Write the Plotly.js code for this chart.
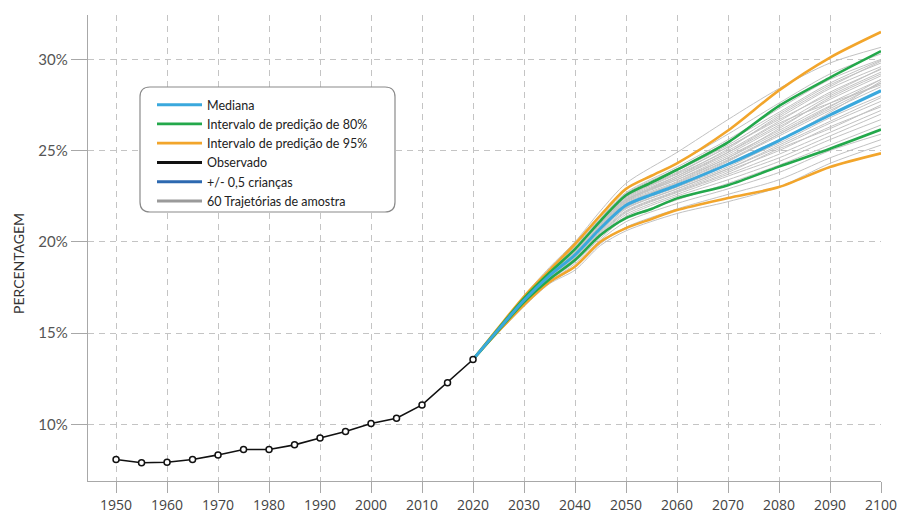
<!DOCTYPE html>
<html>
<head>
<meta charset="utf-8">
<script src="https://cdn.plot.ly/plotly-3.0.1.min.js"></script>
<style>html,body{margin:0;padding:0;background:#fff;}#chart{width:901px;height:513px;}</style>
</head>
<body>
<div id="chart"></div>
<script>
// Observed series
const obsYears = [1950,1955,1960,1965,1970,1975,1980,1985,1990,1995,2000,2005,2010,2015,2020];
const obsVals  = [8.07,7.89,7.92,8.07,8.32,8.62,8.62,8.87,9.25,9.60,10.04,10.33,11.06,12.28,13.55];

// Projection bands
const projYears = [2020,2025,2030,2035,2040,2045,2050,2055,2060,2070,2080,2090,2100];
const median    = [13.55,15.20,16.80,18.15,19.28,20.74,22.00,22.58,23.10,24.25,25.55,26.95,28.28];
const pi80Upper = [13.55,15.25,16.90,18.30,19.60,21.15,22.55,23.25,23.95,25.45,27.45,29.00,30.45];
const pi80Lower = [13.55,15.15,16.70,17.95,19.00,20.37,21.30,21.80,22.38,23.10,24.12,25.10,26.15];
const pi95Upper = [13.55,15.30,17.00,18.45,19.88,21.45,22.90,23.62,24.30,26.10,28.30,30.10,31.50];
const pi95Lower = [13.55,15.10,16.55,17.80,18.65,20.00,20.75,21.25,21.74,22.40,23.00,24.10,24.85];
// "+/- 0,5 crianças" is listed in the legend but no line of it is visible in the chart
const halfChildYears = [null];
const halfChildVals  = [null];
const legendStubYears = [null];
const legendStubVals  = [null];

// Sample trajectories
const trajYears = [2020,2030,2035,2040,2045,2050,2060,2070,2080,2090,2100];
const trajectories = [
  [13.55,17.05,18.60,20.00,21.70,23.20,24.90,26.70,28.40,29.80,30.66],
  [13.55,17.00,18.50,19.90,21.50,22.90,24.30,25.90,27.60,29.20,30.30],
  [13.55,16.95,18.45,19.80,21.30,22.70,24.10,25.60,27.30,28.90,30.00],
  [13.55,16.90,18.40,19.70,21.20,22.60,23.90,25.30,27.00,28.60,29.80],
  [13.55,16.90,18.35,19.60,21.10,22.50,23.80,25.20,26.80,28.40,29.60],
  [13.55,16.85,18.30,19.55,21.00,22.40,23.70,25.00,26.60,28.20,29.45],
  [13.55,16.85,18.30,19.50,20.95,22.35,23.60,24.90,26.40,28.00,29.30],
  [13.55,16.80,18.25,19.45,20.90,22.30,23.50,24.80,26.30,27.80,29.10],
  [13.55,16.80,18.20,19.40,20.85,22.20,23.40,24.70,26.10,27.60,28.90],
  [13.55,16.80,18.20,19.35,20.80,22.15,23.30,24.60,26.00,27.45,28.70],
  [13.55,16.75,18.15,19.30,20.75,22.10,23.20,24.45,25.80,27.20,28.50],
  [13.55,16.75,18.10,19.25,20.70,22.00,23.10,24.30,25.60,27.00,28.30],
  [13.55,16.70,18.05,19.20,20.60,21.90,23.00,24.20,25.40,26.80,28.00],
  [13.55,16.70,18.00,19.15,20.55,21.80,22.90,24.00,25.20,26.50,27.70],
  [13.55,16.70,18.00,19.10,20.50,21.70,22.80,23.90,25.00,26.30,27.40],
  [13.55,16.65,17.95,19.05,20.40,21.60,22.70,23.70,24.80,26.00,27.20],
  [13.55,16.65,17.90,19.00,20.35,21.50,22.60,23.60,24.60,25.80,27.00],
  [13.55,16.60,17.90,18.95,20.30,21.40,22.50,23.40,24.40,25.60,26.70],
  [13.55,16.60,17.85,18.90,20.20,21.30,22.30,23.20,24.20,25.30,26.40],
  [13.55,16.55,17.80,18.80,20.10,21.10,22.10,22.90,23.80,25.00,25.90],
  [13.55,16.50,17.75,18.60,19.90,20.80,21.80,22.60,23.40,24.60,25.60],
  [13.55,16.45,17.70,18.45,19.80,20.60,21.55,22.20,23.00,24.30,25.30],
  [13.55,16.90,18.40,19.60,21.00,22.30,23.40,24.60,26.20,27.90,29.20],
  [13.55,16.70,18.10,19.30,20.80,22.20,23.50,24.90,26.50,27.60,28.60],
  [13.55,16.80,18.20,19.40,20.80,22.00,23.00,24.10,25.50,27.10,28.80],
  [13.55,16.75,18.20,19.45,20.90,22.25,23.60,25.10,26.90,28.50,29.90],
  [13.55,16.85,18.25,19.40,20.70,21.85,22.90,24.00,25.30,26.60,27.90],
  [13.55,16.65,18.00,19.20,20.60,21.90,23.10,24.40,25.90,27.30,28.70],
  [13.55,16.85,18.35,19.65,21.05,22.45,23.75,25.20,26.70,28.10,29.50],
  [13.55,16.75,18.15,19.35,20.75,22.05,23.25,24.50,25.90,27.40,28.90],
  [13.55,16.60,17.95,19.10,20.45,21.65,22.75,23.80,25.10,26.20,27.50],
  [13.55,16.95,18.50,19.75,21.25,22.65,24.00,25.50,27.10,28.70,29.95]
];

const yTicks = [10,15,20,25,30];
const xTicks = [1950,1960,1970,1980,1990,2000,2010,2020,2030,2040,2050,2060,2070,2080,2090,2100];

const names = {
  median: 'Mediana', pi80: 'Intervalo de predição de 80%', pi95: 'Intervalo de predição de 95%',
  obs: 'Observado', half: '+/- 0,5 crianças', traj: '60 Trajetórias de amostra'
};
const colors = {median:'#3aa8dd', pi80:'#23a84b', pi95:'#f2a52b', obs:'#111111', half:'#2d69b0', traj:'#c2c2c2', trajLegend:'#9a9a9a'};

const traces = [];
trajectories.forEach((t) => {
  traces.push({
    x: trajYears, y: t, type: 'scatter', mode: 'lines',
    line: {color: colors.traj, width: 1, shape: 'spline', smoothing: 0.8},
    name: names.traj, legendgroup: 'traj', showlegend: false, hoverinfo: 'skip'
  });
});
// legend entry for trajectories
traces.push({x: legendStubYears, y: legendStubVals, type: 'scatter', mode: 'lines', line: {color: colors.trajLegend, width: 3},
  name: names.traj, legendgroup: 'traj', showlegend: true, legendrank: 6});

const sp = {shape:'spline', smoothing:0.8};
traces.push({x: projYears, y: pi95Upper, type:'scatter', mode:'lines', line:Object.assign({color:colors.pi95, width:2.6}, sp),
  name: names.pi95, legendgroup:'pi95', showlegend:true, legendrank:3});
traces.push({x: projYears, y: pi95Lower, type:'scatter', mode:'lines', line:Object.assign({color:colors.pi95, width:2.6}, sp),
  name: names.pi95, legendgroup:'pi95', showlegend:false});
traces.push({x: projYears, y: pi80Upper, type:'scatter', mode:'lines', line:Object.assign({color:colors.pi80, width:2.6}, sp),
  name: names.pi80, legendgroup:'pi80', showlegend:true, legendrank:2});
traces.push({x: projYears, y: pi80Lower, type:'scatter', mode:'lines', line:Object.assign({color:colors.pi80, width:2.6}, sp),
  name: names.pi80, legendgroup:'pi80', showlegend:false});
traces.push({x: halfChildYears, y: halfChildVals, type:'scatter', mode:'lines', line:{color:colors.half, width:3},
  name: names.half, showlegend:true, legendrank:5});
traces.push({x: projYears, y: median, type:'scatter', mode:'lines', line:Object.assign({color:colors.median, width:3}, sp),
  name: names.median, showlegend:true, legendrank:1});
// legend entry for observed (thick sample like the reference legend)
traces.push({x: legendStubYears, y: legendStubVals, type:'scatter', mode:'lines', line:{color:colors.obs, width:3},
  name: names.obs, legendgroup:'obs', showlegend:true, legendrank:4});
traces.push({x: obsYears, y: obsVals, type:'scatter', mode:'lines',
  line:{color:colors.obs, width:1.6},
  name: names.obs, legendgroup:'obs', showlegend:false});
traces.push({x: obsYears, y: obsVals, type:'scatter', mode:'markers',
  marker:{symbol:'circle', size:6, color:'#ffffff', line:{color:colors.obs, width:1.5}},
  name: names.obs, legendgroup:'obs', showlegend:false});

// rounded legend box (paper coords)
const bx0 = (140-88)/793, bx1 = (395-88)/793, byT = (481-87)/466, byB = (481-212)/466;
const rx = 10/793, ry = 10/466;
const boxPath = `M${bx0+rx},${byT} L${bx1-rx},${byT} Q${bx1},${byT} ${bx1},${byT-ry} L${bx1},${byB+ry} Q${bx1},${byB} ${bx1-rx},${byB} L${bx0+rx},${byB} Q${bx0},${byB} ${bx0},${byB+ry} L${bx0},${byT-ry} Q${bx0},${byT} ${bx0+rx},${byT} Z`;

const layout = {
  width: 901, height: 513,
  margin: {l: 88, r: 20, t: 15, b: 32},
  paper_bgcolor: '#ffffff', plot_bgcolor: '#ffffff',
  showlegend: true,
  legend: {
    x: (152-88)/793, y: (481-90)/466, xanchor: 'left', yanchor: 'top',
    bgcolor: 'rgba(0,0,0,0)', borderwidth: 0,
    font: {family: 'Lato, "Open Sans", sans-serif', size: 12.5, color: '#222'},
    tracegroupgap: 0, itemwidth: 45, traceorder: 'normal'
  },
  xaxis: {
    range: [1944.5, 2100], tickvals: xTicks, ticktext: xTicks.map(String),
    showgrid: true, gridcolor: '#c4c4c4', gridwidth: 1, griddash: '6px,5px',
    showline: true, linecolor: '#a8a8a8', linewidth: 1.2,
    ticks: 'outside', ticklen: 11, tickcolor: '#a8a8a8', tickwidth: 1,
    zeroline: false,
    tickfont: {family: '"Open Sans", sans-serif', size: 14, color: '#444'}
  },
  yaxis: {
    range: [6.89, 32.43], tickvals: yTicks, ticktext: yTicks.map(v => v + '%'),
    showgrid: true, gridcolor: '#c4c4c4', gridwidth: 1, griddash: '6px,5px',
    showline: true, linecolor: '#a8a8a8', linewidth: 1.2,
    ticks: 'outside', ticklen: 16, tickcolor: '#a8a8a8', tickwidth: 1,
    zeroline: false,
    tickfont: {family: 'Lato, sans-serif', size: 15, color: '#555'}
  },
  shapes: [{
    type: 'path', xref: 'paper', yref: 'paper', path: boxPath,
    fillcolor: '#ffffff', line: {color: '#8a8a8a', width: 1.2}, layer: 'above'
  }],
  annotations: [{
    text: 'PERCENTAGEM', xref: 'paper', yref: 'paper',
    x: (18-88)/793, y: (481-264)/466, xanchor: 'center', yanchor: 'middle',
    textangle: -90, showarrow: false,
    font: {family: 'Lato, sans-serif', size: 14, color: '#333'}
  }]
};

Plotly.newPlot('chart', traces, layout, {displayModeBar: false, staticPlot: true});
</script>
</body>
</html>
